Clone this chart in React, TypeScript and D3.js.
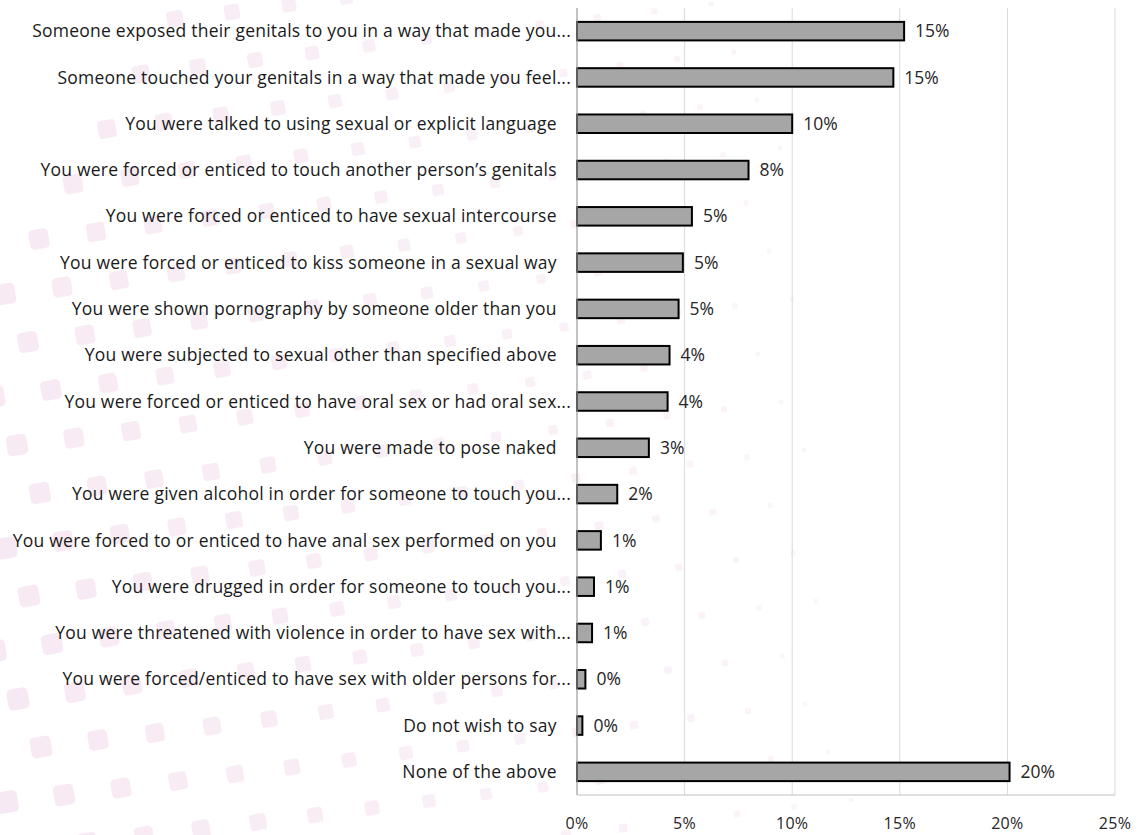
import React, { useEffect, useRef } from "react";
import * as d3 from "d3";

const categories: string[] = [
  "Someone exposed their genitals to you in a way that made you...",
  "Someone touched your genitals in a way that made you feel...",
  "You were talked to using sexual or explicit language   ",
  "You were forced or enticed to touch another person\u2019s genitals   ",
  "You were forced or enticed to have sexual intercourse   ",
  "You were forced or enticed to kiss someone in a sexual way   ",
  "You were shown pornography by someone older than you   ",
  "You were subjected to sexual other than specified above   ",
  "You were forced or enticed to have oral sex or had oral sex...",
  "You were made to pose naked   ",
  "You were given alcohol in order for someone to touch you...",
  "You were forced to or enticed to have anal sex performed on you   ",
  "You were drugged in order for someone to touch you...",
  "You were threatened with violence in order to have sex with...",
  "You were forced/enticed to have sex with older persons for...",
  "Do not wish to say   ",
  "None of the above   ",
];

const values: number[] = [
  0.152, 0.147, 0.1, 0.0797, 0.0534, 0.0492, 0.0472, 0.043, 0.0421, 0.0334,
  0.0187, 0.0111, 0.0079, 0.007, 0.0039, 0.0025, 0.201,
];

const ticks: number[] = [0, 0.05, 0.1, 0.15, 0.2, 0.25];

const W = 1141;
const H = 835;

export default function App() {
  const ref = useRef<SVGSVGElement>(null);

  useEffect(() => {
    const svg = d3.select(ref.current);
    svg.selectAll("*").remove();

    const font = "'Open Sans', 'Noto Sans', sans-serif";

    // decorative faint background squares
    const bg = svg.append("g");
    const deco: { x: number; y: number; s: number }[] = [];
    for (let i = -6; i < 26; i++) {
      for (let j = -2; j < 18; j++) {
        const x = 7 + i * 57 + j * 34;
        const y = 802 - i * 7 - j * 55;
        if (x < -20 || x > 1160 || y < -20 || y > 850) continue;
        const f = Math.max(0, 1 - x / 900 - ((802 - y) / 835) * 0.1);
        const s = 3 + 19 * f;
        if (s < 4) continue;
        deco.push({ x, y, s });
      }
    }
    bg.selectAll("rect")
      .data(deco)
      .join("rect")
      .attr("x", (d) => d.x - d.s / 2)
      .attr("y", (d) => d.y - d.s / 2)
      .attr("width", (d) => d.s)
      .attr("height", (d) => d.s)
      .attr("rx", (d) => d.s * 0.22)
      .attr("fill", "#f7e9f3")
      .attr("opacity", (d) => 0.45 + 0.55 * ((d.s - 3) / 19))
      .attr("transform", (d) => `rotate(-10 ${d.x} ${d.y})`);

    const x = d3.scaleLinear().domain([0, 0.25]).range([577, 1115]);
    const y = d3
      .scaleBand<string>()
      .domain(categories)
      .range([8, 795])
      .paddingInner(0.6)
      .paddingOuter(0.3);

    // gridlines
    svg
      .append("g")
      .selectAll("line")
      .data(ticks.slice(1))
      .join("line")
      .attr("x1", (d) => x(d))
      .attr("x2", (d) => x(d))
      .attr("y1", 8)
      .attr("y2", 795)
      .attr("stroke", "#d9d9d9")
      .attr("stroke-width", 1);

    // bottom axis line
    svg
      .append("line")
      .attr("x1", x(0))
      .attr("x2", x(0.25))
      .attr("y1", 795)
      .attr("y2", 795)
      .attr("stroke", "#bfbfbf")
      .attr("stroke-width", 1);

    // tick labels
    svg
      .append("g")
      .selectAll("text")
      .data(ticks)
      .join("text")
      .attr("x", (d) => x(d))
      .attr("y", 823)
      .attr("dy", "0.35em")
      .attr("text-anchor", "middle")
      .attr("font-family", font)
      .attr("font-size", 16)
      .attr("letter-spacing", 0.3)
      .attr("fill", "#262626")
      .text((d) => d3.format(".0%")(d));

    // bars
    const idx = d3.range(categories.length);
    svg
      .append("g")
      .selectAll("rect")
      .data(idx)
      .join("rect")
      .attr("x", x(0))
      .attr("y", (i) => y(categories[i])!)
      .attr("width", (i) => x(values[i]) - x(0))
      .attr("height", y.bandwidth())
      .attr("fill", "#a6a6a6")
      .attr("stroke", "#000")
      .attr("stroke-width", 2);

    // left axis line
    svg
      .append("line")
      .attr("x1", x(0))
      .attr("x2", x(0))
      .attr("y1", 8)
      .attr("y2", 795)
      .attr("stroke", "#9a9a9a")
      .attr("stroke-width", 1.2);

    // category labels
    svg
      .append("g")
      .selectAll("text")
      .data(idx)
      .join("text")
      .attr("x", 571)
      .attr("y", (i) => y(categories[i])! + y.bandwidth() / 2)
      .attr("dy", "0.35em")
      .attr("text-anchor", "end")
      .attr("font-family", font)
      .attr("font-size", 17.5)
      .attr("letter-spacing", 0.22)
      .attr("fill", "#1a1a1a")
      .style("white-space", "pre")
      .text((i) => categories[i]);

    // value labels
    svg
      .append("g")
      .selectAll("text")
      .data(idx)
      .join("text")
      .attr("x", (i) => x(values[i]) + 11)
      .attr("y", (i) => y(categories[i])! + y.bandwidth() / 2)
      .attr("dy", "0.35em")
      .attr("font-family", font)
      .attr("font-size", 17.5)
      .attr("fill", "#262626")
      .text((i) => d3.format(".0%")(values[i]));
  }, []);

  return (
    <svg
      ref={ref}
      width={W}
      height={H}
      style={{ position: "absolute", left: 0, top: 0, background: "#fff" }}
    />
  );
}
